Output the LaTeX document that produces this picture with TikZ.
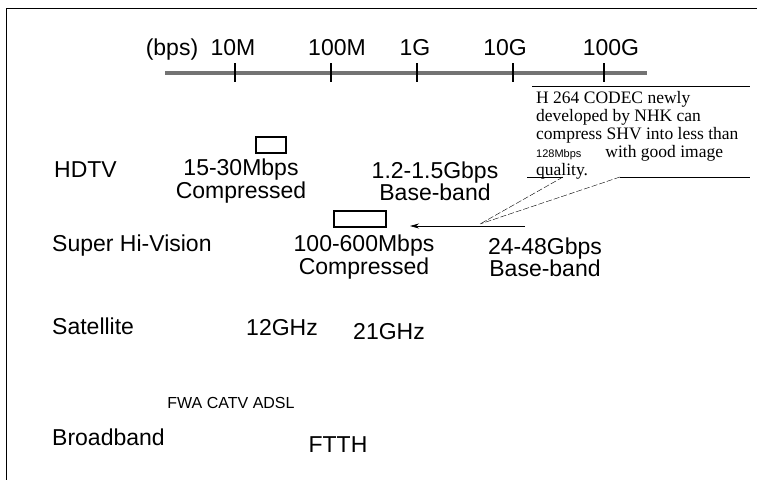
\documentclass[tikz,border=0pt]{standalone}
\usepackage{fontspec}
\usetikzlibrary{arrows.meta}
\setmainfont{Liberation Sans}
\setsansfont{Liberation Sans}
\newfontfamily\notefont{Liberation Serif}
\begin{document}
\begin{tikzpicture}[x=1pt,y=-1pt,>={Stealth[length=9pt,width=5pt]},
  lbl/.style={font=\fontsize{23}{19}\selectfont,inner sep=0pt,align=center},
  ratebox/.style={draw,line width=1.6pt,minimum width=#1,minimum height=16pt,inner sep=0pt},
  tickmark/.style={line width=1.1pt}]
\useasboundingbox (0,0) rectangle (757,480);
% frame
\draw[line width=0.8pt] (757,8) -- (6,8) -- (6,480);
% bit rate scale
\draw[line width=4pt,black!55] (165,73) -- (647,73);
\node[lbl,anchor=base] (bps) at (172,55) {(bps)};
\foreach \x/\lx/\t/\n in {235/233/10M/ta,331/337/100M/tb,417/415/1G/tc,513/505/10G/td,604/611/100G/te}{
  \node[lbl,anchor=base] (\n) at (\lx,55) {\t};
  \draw[tickmark] (\x,63) -- (\x,82);
}
% HDTV
\node[lbl,anchor=west] (hdtv) at (54,170) {HDTV};
\node[ratebox=30pt] (hdbox) at (271,145) {};
\node[lbl] (hdcomp) at (241,181) {15-30Mbps\\Compressed};
\node[lbl] (hdbase) at (435,181) {1.2-1.5Gbps\\Base-band};
% Super Hi-Vision
\node[lbl,anchor=west] (shv) at (52,246) {Super Hi-Vision};
\node[ratebox=52pt] (shvbox) at (360,219) {};
\node[lbl] (shvcomp) at (364,257) {100-600Mbps\\Compressed};
\node[lbl] (shvbase) at (545,257) {24-48Gbps\\Base-band};
\coordinate (arrstart) at (525,226); \coordinate (arrtip) at (410,226);
\draw[->,line width=0.7pt] (arrstart) -- (arrtip);
% callout
\node[anchor=north west,inner sep=0pt,align=left,font={\notefont\fontsize{17.5}{18}\selectfont}] (note) at (536,91)
  {H 264 CODEC newly\\developed by NHK can\\compress SHV into less than\\{\sffamily\fontsize{11}{12}\selectfont 128Mbps}\hspace{24pt}with good image\\quality.};
\coordinate (ptr) at (480,224);
\coordinate (gapl) at (563,177); \coordinate (gapr) at (620,177);
\draw[line width=0.8pt] (532,86) -- (750,86);
\draw[line width=0.8pt] (527,177) -- (gapl); \draw[line width=0.8pt] (gapr) -- (750,177);
\draw[dashed,dash pattern=on 6pt off 2pt] (gapl) -- (ptr);
\draw[dashed,dash pattern=on 6pt off 2pt] (gapr) -- (ptr);
% Satellite
\node[lbl,anchor=west] (sat) at (52,326) {Satellite};
\node[lbl] (ghz12) at (282,328) {12GHz};
\node[lbl] (ghz21) at (389,332) {21GHz};
% Broadband
\node[font=\fontsize{16}{17}\selectfont,inner sep=0pt] (xdsl) at (231,403) {FWA CATV ADSL};
\node[lbl,anchor=west] (bb) at (52,437) {Broadband};
\node[lbl] (ftth) at (338,445) {FTTH};
\end{tikzpicture}
\end{document}
